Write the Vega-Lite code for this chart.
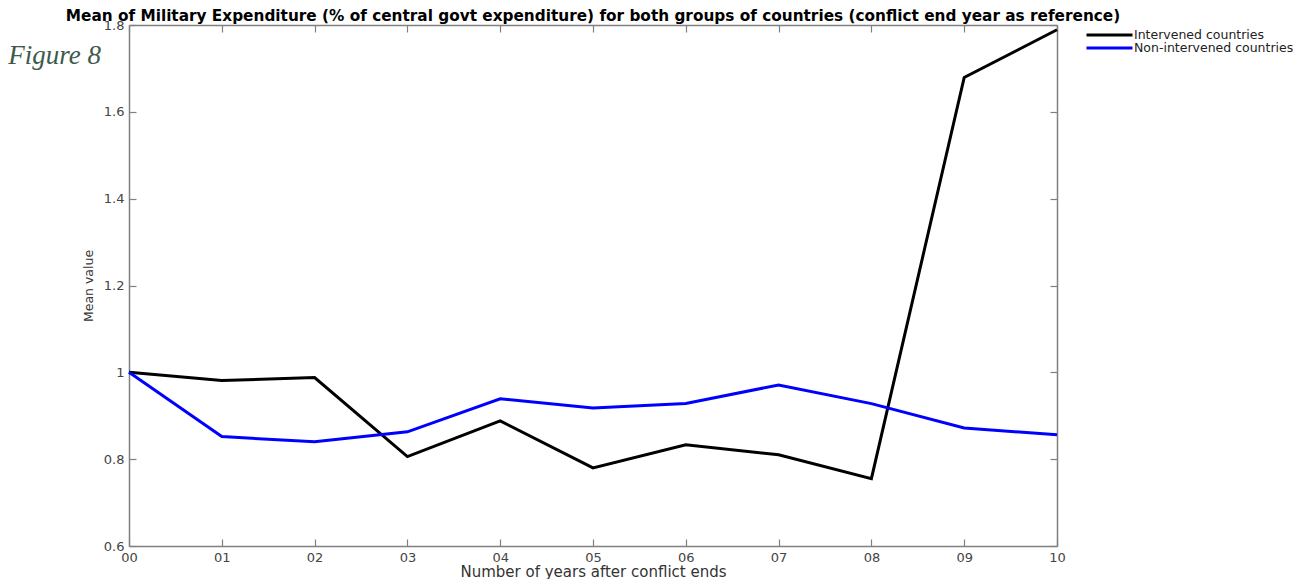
{
  "$schema": "https://vega.github.io/schema/vega-lite/v6.json",
  "width": 928,
  "height": 521,
  "autosize": {"type": "none"},
  "padding": {"left": 129, "top": 25, "right": 256, "bottom": 33},
  "background": "white",
  "config": {
    "view": {"stroke": null},
    "font": "DejaVu Sans",
    "axis": {"grid": false, "domainColor": "#808080", "domainWidth": 1.5, "tickColor": "#808080", "tickWidth": 1.2, "labelColor": "#444444", "labelFont": "DejaVu Sans", "labelFontSize": 13, "labelFlush": false, "titleFont": "DejaVu Sans", "titleFontWeight": "normal", "titleColor": "#333333"}
  },
  "title": {
    "text": "Mean of Military Expenditure (% of central govt expenditure) for both groups of countries (conflict end year as reference)",
    "font": "DejaVu Sans", "fontSize": 15.3, "fontWeight": "bold", "color": "#000000", "anchor": "middle", "offset": -5
  },
  "datasets": {
    "series": [
      {"year": 0, "value": 1.0, "group": "Intervened countries"},
      {"year": 1, "value": 0.981, "group": "Intervened countries"},
      {"year": 2, "value": 0.988, "group": "Intervened countries"},
      {"year": 3, "value": 0.806, "group": "Intervened countries"},
      {"year": 4, "value": 0.888, "group": "Intervened countries"},
      {"year": 5, "value": 0.780, "group": "Intervened countries"},
      {"year": 6, "value": 0.833, "group": "Intervened countries"},
      {"year": 7, "value": 0.810, "group": "Intervened countries"},
      {"year": 8, "value": 0.755, "group": "Intervened countries"},
      {"year": 9, "value": 1.679, "group": "Intervened countries"},
      {"year": 10, "value": 1.789, "group": "Intervened countries"},
      {"year": 0, "value": 1.0, "group": "Non-intervened countries"},
      {"year": 1, "value": 0.852, "group": "Non-intervened countries"},
      {"year": 2, "value": 0.840, "group": "Non-intervened countries"},
      {"year": 3, "value": 0.863, "group": "Non-intervened countries"},
      {"year": 4, "value": 0.939, "group": "Non-intervened countries"},
      {"year": 5, "value": 0.918, "group": "Non-intervened countries"},
      {"year": 6, "value": 0.928, "group": "Non-intervened countries"},
      {"year": 7, "value": 0.971, "group": "Non-intervened countries"},
      {"year": 8, "value": 0.928, "group": "Non-intervened countries"},
      {"year": 9, "value": 0.872, "group": "Non-intervened countries"},
      {"year": 10, "value": 0.856, "group": "Non-intervened countries"}
    ],
    "caption": [
      {"label": "Figure 8", "year": -1.3, "value": 1.71}
    ]
  },
  "layer": [
    {
      "data": {"name": "series"},
      "mark": {"type": "line", "strokeWidth": 3, "clip": false},
      "encoding": {
        "x": {"field": "year", "type": "quantitative", "scale": {"domain": [0, 10], "nice": false, "zero": false},
          "axis": {"orient": "bottom", "values": [0,1,2,3,4,5,6,7,8,9,10], "labelExpr": "datum.value < 10 ? '0' + datum.value : '' + datum.value", "tickSize": -7, "labelPadding": 12, "title": "Number of years after conflict ends", "titleFontSize": 15, "titlePadding": 0}},
        "y": {"field": "value", "type": "quantitative", "scale": {"domain": [0.6, 1.8], "nice": false, "zero": false},
          "axis": {"orient": "left", "values": [0.6, 0.8, 1, 1.2, 1.4, 1.6, 1.8], "format": "~g", "tickSize": -7, "labelPadding": 12, "title": "Mean value", "titleFontSize": 12.5, "titlePadding": 8}},
        "color": {"field": "group", "type": "nominal",
          "scale": {"domain": ["Intervened countries", "Non-intervened countries"], "range": ["#000000", "#0000ff"]},
          "legend": {"orient": "none", "legendX": 956, "legendY": 4, "title": null, "symbolType": "stroke", "symbolSize": 2116, "symbolStrokeWidth": 3, "labelFontSize": 12.5, "labelColor": "#222222", "labelOffset": 0, "clipHeight": 12, "rowPadding": 0}}
      }
    },
    {
      "data": {"name": "series"},
      "mark": {"type": "point", "opacity": 0},
      "encoding": {
        "x": {"field": "year", "type": "quantitative", "scale": {"domain": [0, 10], "nice": false, "zero": false},
          "axis": {"orient": "top", "values": [0,1,2,3,4,5,6,7,8,9,10], "labels": false, "tickSize": -7, "title": null}},
        "y": {"field": "value", "type": "quantitative", "scale": {"domain": [0.6, 1.8], "nice": false, "zero": false},
          "axis": {"orient": "right", "values": [0.6, 0.8, 1, 1.2, 1.4, 1.6, 1.8], "labels": false, "tickSize": -7, "title": null}}
      }
    },
    {
      "data": {"name": "caption"},
      "mark": {"type": "text", "align": "left", "baseline": "alphabetic", "font": "Liberation Serif", "fontStyle": "italic", "fontSize": 27, "color": "#3d5a4a", "clip": false},
      "encoding": {
        "x": {"field": "year", "type": "quantitative", "axis": null},
        "y": {"field": "value", "type": "quantitative", "axis": null},
        "text": {"field": "label"}
      }
    }
  ],
  "resolve": {"axis": {"x": "independent", "y": "independent"}}
}
